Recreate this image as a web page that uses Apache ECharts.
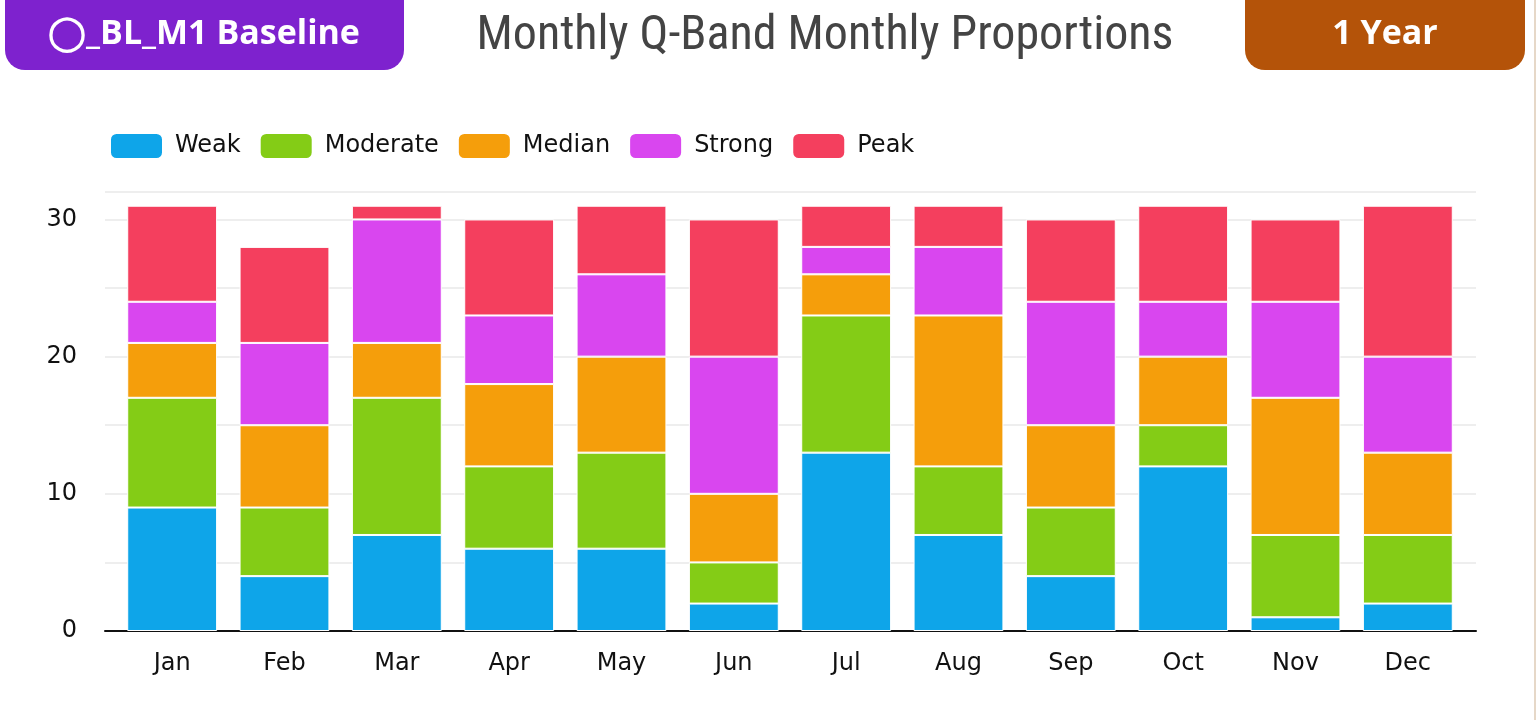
<!DOCTYPE html>
<html>
<head>
<meta charset="utf-8">
<script src="https://cdn.jsdelivr.net/npm/echarts@6/dist/echarts.min.js"></script>
<style>
  html, body { margin: 0; padding: 0; background: #fff; }
  #chart { width: 1536px; height: 720px; }
</style>
</head>
<body>
<div id="chart"></div>
<script>
// data
const months = ['Jan', 'Feb', 'Mar', 'Apr', 'May', 'Jun', 'Jul', 'Aug', 'Sep', 'Oct', 'Nov', 'Dec']
const seriesNames = ['Weak', 'Moderate', 'Median', 'Strong', 'Peak']
const weak = [9, 4, 7, 6, 6, 2, 13, 7, 4, 12, 1, 2]
const moderate = [8, 5, 10, 6, 7, 3, 10, 5, 5, 3, 6, 5]
const median = [4, 6, 4, 6, 7, 5, 3, 11, 6, 5, 10, 6]
const strong = [3, 6, 9, 5, 6, 10, 2, 5, 9, 4, 7, 7]
const peak = [7, 7, 1, 7, 5, 10, 3, 3, 6, 7, 6, 11]
const colors = ['#0EA5E9', '#84CC16', '#F59E0B', '#D946EF', '#F43F5E']

const myChart = echarts.init(document.getElementById('chart'))
const labelFont = '"DejaVu Sans", "Noto Sans", sans-serif'
const badgeFont = 'bold 34px "Open Sans", Lato, sans-serif'

const series = [weak, moderate, median, strong, peak].map((data, i) => ({
  name: seriesNames[i],
  type: 'bar',
  stack: 'total',
  xAxisIndex: 1,
  yAxisIndex: 1,
  barWidth: '80%',
  data: data,
  itemStyle: {
    color: colors[i],
    borderColor: '#fff',
    borderWidth: 1
  }
}))

myChart.setOption({
  animation: false,
  color: colors,
  graphic: [
    // left badge
    {
      type: 'rect',
      shape: { x: 5, y: -30, width: 399, height: 100, r: 20 },
      style: { fill: '#7E22CE' }
    },
    {
      type: 'text',
      x: 204, y: 34,
      style: {
        text: '◯_BL_M1 Baseline',
        fill: '#fff',
        font: badgeFont,
        align: 'center',
        verticalAlign: 'middle'
      }
    },
    // right badge
    {
      type: 'rect',
      shape: { x: 1245, y: -30, width: 280, height: 100, r: 20 },
      style: { fill: '#B45309' }
    },
    {
      type: 'text',
      x: 1385, y: 34,
      style: {
        text: '1 Year',
        fill: '#fff',
        font: badgeFont,
        align: 'center',
        verticalAlign: 'middle'
      }
    },
    // title
    {
      type: 'text',
      x: 825, y: 37,
      style: {
        text: 'Monthly Q-Band Monthly Proportions',
        fill: '#444',
        font: '48px "Liberation Sans Narrow", "Roboto Condensed", Roboto, sans-serif',
        align: 'center',
        verticalAlign: 'middle'
      }
    },
    // thin frame edge on the right
    {
      type: 'rect',
      shape: { x: 1534, y: 0, width: 2, height: 720 },
      style: { fill: '#E6D8C8' }
    }
  ],
  legend: {
    data: seriesNames,
    left: 104,
    top: 127,
    itemWidth: 53,
    itemHeight: 26,
    itemGap: 18,
    icon: 'roundRect',
    textStyle: {
      fontSize: 24,
      color: '#111',
      fontFamily: labelFont,
      padding: [0, 0, 0, 7]
    }
  },
  grid: [
    // outer frame: gridlines, y labels, base line
    { left: 105, right: 60, top: 192, bottom: 89 },
    // inner band where the bars sit
    { left: 116, right: 72, top: 192, bottom: 89 }
  ],
  xAxis: [
    {
      type: 'category',
      gridIndex: 0,
      data: months,
      axisTick: { show: false },
      axisLabel: { show: false },
      axisLine: { lineStyle: { color: '#111', width: 2 } }
    },
    {
      type: 'category',
      gridIndex: 1,
      data: months,
      axisTick: { show: false },
      axisLine: { show: false },
      axisLabel: {
        fontSize: 24,
        color: '#111',
        fontFamily: labelFont,
        margin: 21
      }
    }
  ],
  yAxis: [
    {
      type: 'value',
      gridIndex: 0,
      min: 0,
      max: 32,
      interval: 5,
      axisLine: { show: false },
      axisTick: { show: false },
      splitLine: { lineStyle: { color: '#E8E8E8', width: 1.5 } },
      axisLabel: {
        fontSize: 24,
        color: '#111',
        fontFamily: labelFont,
        margin: 28,
        formatter: (v) => (v % 10 === 0 ? String(v) : '')
      }
    },
    {
      type: 'value',
      gridIndex: 1,
      min: 0,
      max: 32,
      show: false,
      splitLine: { show: false }
    }
  ],
  series: series
})
</script>
</body>
</html>
